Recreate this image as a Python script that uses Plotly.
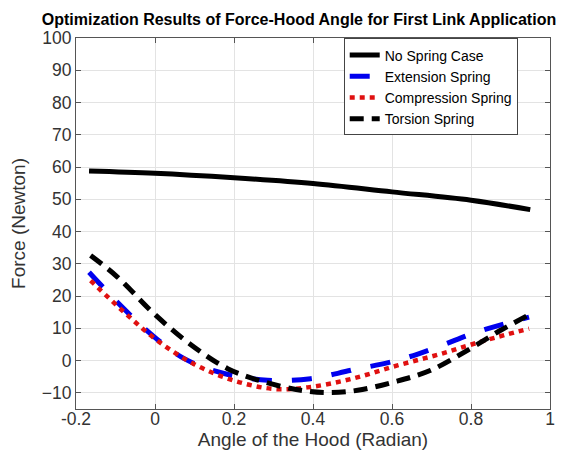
import plotly.graph_objects as go

# Data
x_no_spring = [-0.167, 0.0, 0.2, 0.4, 0.6, 0.8, 0.95]
y_no_spring = [58.8, 58.1, 56.7, 54.9, 52.3, 49.7, 46.8]

x_extension = [-0.167, -0.087, -0.011, 0.074, 0.175, 0.285, 0.394, 0.496, 0.614, 0.715, 0.816, 0.947]
y_extension = [27.4, 17.1, 8.3, 0.6, -4.0, -6.1, -5.6, -3.0, 0.1, 4.2, 8.9, 13.5]

x_compression = [-0.163, -0.078, 0.006, 0.099, 0.2, 0.302, 0.386, 0.496, 0.614, 0.724, 0.834, 0.947]
y_compression = [24.8, 15.0, 6.2, -1.1, -6.2, -8.8, -8.3, -5.7, -1.5, 2.1, 6.2, 9.9]

x_torsion = [-0.163, -0.095, -0.002, 0.09, 0.184, 0.276, 0.369, 0.437, 0.513, 0.606, 0.698, 0.791, 0.875, 0.951]
y_torsion = [32.6, 25.9, 14.5, 5.0, -2.5, -6.6, -9.2, -9.9, -9.2, -6.6, -3.0, 3.2, 9.4, 14.5]

x_ticks = [-0.2, 0, 0.2, 0.4, 0.6, 0.8, 1]
x_tick_labels = ["-0.2", "0", "0.2", "0.4", "0.6", "0.8", "1"]
y_ticks = [-10, 0, 10, 20, 30, 40, 50, 60, 70, 80, 90, 100]

FONT = "Liberation Sans, Arial, Helvetica, sans-serif"

fig = go.Figure()
fig.add_trace(go.Scatter(x=x_no_spring, y=y_no_spring, mode="lines", name="No Spring Case",
                         line=dict(color="black", width=5, shape="spline")))
fig.add_trace(go.Scatter(x=x_extension, y=y_extension, mode="lines", name="Extension Spring",
                         line=dict(color="#0000ee", width=5, dash="20px,20px", shape="spline")))
fig.add_trace(go.Scatter(x=x_compression, y=y_compression, mode="lines", name="Compression Spring",
                         line=dict(color="#e01010", width=4.5, dash="5px,5px", shape="spline")))
fig.add_trace(go.Scatter(x=x_torsion, y=y_torsion, mode="lines", name="Torsion Spring",
                         line=dict(color="black", width=5, dash="14px,8px", shape="spline")))

axis_common = dict(
    showgrid=True, gridcolor="#e3e3e3", gridwidth=1,
    showline=True, linecolor="#555555", linewidth=1, mirror="ticks",
    ticks="inside", ticklen=5, tickcolor="#555555",
    zeroline=False,
    tickfont=dict(family=FONT, size=17.5, color="#333333"),
    automargin=False,
)

L, R, T, B = 68, 542.5, 29.5, 401

fig.update_layout(
    width=568, height=451,
    margin=dict(l=L, r=568 - R, t=T, b=451 - B),
    paper_bgcolor="white", plot_bgcolor="white",
    title=dict(text="<b>Optimization Results of Force-Hood Angle for First Link Application</b>",
               font=dict(family=FONT, size=16, color="black"),
               x=291 / 568, xref="container", xanchor="center",
               y=1 - 11 / 451, yref="container", yanchor="middle", pad=dict(l=0, r=0, t=0, b=0)),
    xaxis=dict(range=[-0.2, 1], tickvals=x_ticks, ticktext=x_tick_labels,
               ticklabelstandoff=-6,
               title=dict(text="Angle of the Hood (Radian)", font=dict(family=FONT, size=19, color="#333333"),
                          standoff=4),
               **axis_common),
    yaxis=dict(range=[-15, 100], tickvals=y_ticks,
               title=dict(text="Force (Newton)", font=dict(family=FONT, size=19, color="#333333"),
                          standoff=11),
               **axis_common),
    legend=dict(x=(336 - L) / (R - L), y=(B - 30) / (B - T),
                xanchor="left", yanchor="top",
                bgcolor="white", bordercolor="#444444", borderwidth=1,
                font=dict(family=FONT, size=14, color="black"),
                tracegroupgap=0, itemwidth=30),
    showlegend=True,
)

fig.write_html("out.html")
